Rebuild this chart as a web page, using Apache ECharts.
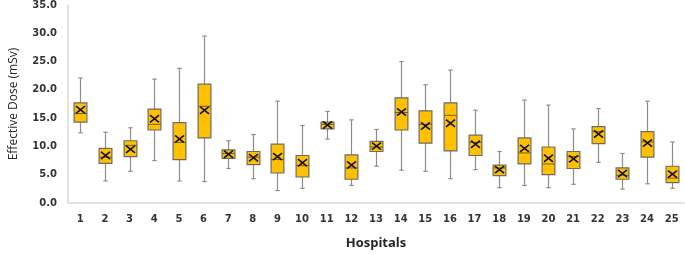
<!DOCTYPE html>
<html>
<head>
<meta charset="utf-8">
<script src="https://cdn.jsdelivr.net/npm/echarts@6/dist/echarts.min.js"></script>
<style>html,body{margin:0;padding:0;background:#fff}#c{width:685px;height:255px}</style>
</head>
<body>
<div id="c"></div>
<script>
const categories = ['1','2','3','4','5','6','7','8','9','10','11','12','13','14','15','16','17','18','19','20','21','22','23','24','25'];
const minVals    = [12.4, 3.9, 5.6, 7.5, 3.9, 3.8, 6.1, 4.3, 2.2, 2.6, 11.3, 3.1, 6.5, 5.8, 5.6, 4.3, 5.9, 2.7, 3.1, 2.7, 3.3, 7.2, 2.45, 3.4, 2.6];
const q1Vals     = [14.3, 7.0, 8.2, 12.9, 7.65, 11.5, 7.9, 6.8, 5.3, 4.6, 13.1, 4.2, 9.1, 12.9, 10.6, 9.2, 8.4, 4.85, 6.9, 5.0, 6.1, 10.5, 4.2, 8.1, 3.6];
const medianVals = [15.8, 8.1, 10.2, 13.9, 10.7, 17.1, 8.75, 8.1, 7.7, 6.6, 13.9, 6.2, 9.9, 16.0, 13.9, 15.5, 10.7, 6.2, 8.85, 6.9, 8.2, 12.6, 4.9, 10.8, 4.4];
const q3Vals     = [17.7, 9.66, 11.0, 16.6, 14.2, 21.0, 9.4, 9.1, 10.4, 8.4, 14.3, 8.5, 10.9, 18.6, 16.3, 17.7, 12.0, 6.7, 11.5, 9.9, 9.1, 13.5, 6.2, 12.6, 6.5];
const maxVals    = [22.1, 12.5, 13.3, 21.9, 23.8, 29.5, 11.0, 12.1, 18.0, 13.7, 16.2, 14.7, 13.0, 25.0, 20.9, 23.5, 16.4, 9.1, 18.2, 17.3, 13.1, 16.7, 8.75, 18.0, 10.8];
const meanVals   = [16.5, 8.4, 9.5, 14.9, 11.3, 16.4, 8.6, 8.0, 8.2, 7.1, 13.8, 6.7, 10.05, 16.1, 13.6, 14.1, 10.4, 5.9, 9.66, 7.9, 7.8, 12.2, 5.2, 10.6, 5.1];
const yTicks = {min: 0, max: 35, interval: 5};

const rows = categories.map((c, i) => [i, minVals[i], q1Vals[i], medianVals[i], q3Vals[i], maxVals[i], meanVals[i]]);

function renderItem(params, api) {
  const i = api.value(0);
  const pMin = api.coord([i, api.value(1)]);
  const pQ1 = api.coord([i, api.value(2)]);
  const pMed = api.coord([i, api.value(3)]);
  const pQ3 = api.coord([i, api.value(4)]);
  const pMax = api.coord([i, api.value(5)]);
  const pMean = api.coord([i, api.value(6)]);
  const band = api.size([1, 0])[0];
  const bw = band * 0.52;
  const cx = Math.round(pMin[0]) + 0.5;
  const cap = 2.2;
  const xs = 4.5, ys = 3.6;
  const whisk = {stroke: '#8c8c8c', lineWidth: 1.2};
  return {
    type: 'group',
    children: [
      {type: 'line', shape: {x1: cx, y1: pMax[1], x2: cx, y2: pMin[1]}, style: whisk},
      {type: 'line', shape: {x1: cx - cap, y1: pMax[1], x2: cx + cap, y2: pMax[1]}, style: whisk},
      {type: 'line', shape: {x1: cx - cap, y1: pMin[1], x2: cx + cap, y2: pMin[1]}, style: whisk},
      {type: 'rect', shape: {x: cx - bw / 2, y: pQ3[1], width: bw, height: pQ1[1] - pQ3[1]},
        style: {fill: '#FFC000', stroke: '#6b6b6b', lineWidth: 1.2}},
      {type: 'line', shape: {x1: cx - bw / 2, y1: pMed[1], x2: cx + bw / 2, y2: pMed[1]},
        style: {stroke: '#7a6020', lineWidth: 1}},
      {type: 'line', shape: {x1: cx - xs, y1: pMean[1] - ys, x2: cx + xs, y2: pMean[1] + ys},
        style: {stroke: '#111', lineWidth: 1.6}},
      {type: 'line', shape: {x1: cx - xs, y1: pMean[1] + ys, x2: cx + xs, y2: pMean[1] - ys},
        style: {stroke: '#111', lineWidth: 1.6}}
    ]
  };
}

const chart = echarts.init(document.getElementById('c'), null, {renderer: 'canvas'});
chart.setOption({
  animation: false,
  backgroundColor: '#fff',
  grid: {left: 64, right: 1, top: 4.5, bottom: 46.7},
  xAxis: {
    type: 'category',
    data: categories,
    boundaryGap: true,
    name: 'Hospitals',
    nameLocation: 'middle',
    nameGap: 34,
    nameTextStyle: {fontFamily: 'Open Sans', fontWeight: 'bold', fontSize: 13, color: '#262626'},
    axisLine: {lineStyle: {color: '#d9d9d9', width: 1.5}},
    axisTick: {show: false},
    axisLabel: {margin: 11, fontFamily: 'DejaVu Sans', fontWeight: 'bold', fontSize: 10, color: '#333'},
    splitLine: {show: false}
  },
  yAxis: {
    type: 'value',
    min: yTicks.min, max: yTicks.max, interval: yTicks.interval,
    name: 'Effective Dose (mSv)',
    nameLocation: 'middle',
    nameGap: 48,
    nameTextStyle: {fontFamily: 'Open Sans', fontSize: 12, color: '#262626'},
    axisLine: {show: true, lineStyle: {color: '#d9d9d9', width: 1.5}},
    axisTick: {show: false},
    splitLine: {show: false},
    axisLabel: {margin: 11, fontFamily: 'DejaVu Sans', fontWeight: 'bold', fontSize: 10, color: '#333',
      formatter: v => v.toFixed(1)}
  },
  series: [{
    type: 'custom',
    renderItem: renderItem,
    encode: {x: 0, y: [1, 2, 3, 4, 5, 6]},
    data: rows,
    clip: false
  }]
});
</script>
</body>
</html>
